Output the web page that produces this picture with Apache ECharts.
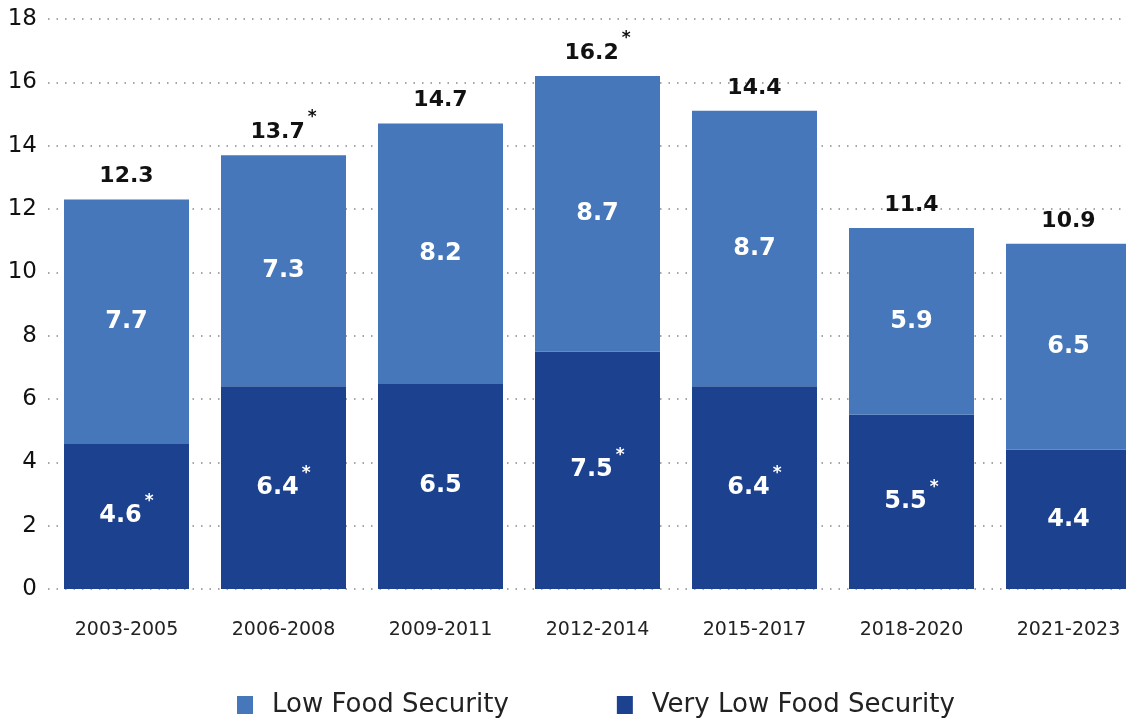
<!DOCTYPE html>
<html>
<head>
<meta charset="utf-8">
<script src="https://cdn.jsdelivr.net/npm/echarts@6/dist/echarts.min.js"></script>
<style>
  html, body { margin: 0; padding: 0; background: #ffffff; overflow: hidden; }
  #chart { width: 1147px; height: 719px; }
</style>
</head>
<body>
<div id="chart"></div>
<script>
// Three-year periods
const periods = ['2003-2005', '2006-2008', '2009-2011', '2012-2014', '2015-2017', '2018-2020', '2021-2023'];

// Percent of households, by severity
const veryLowFoodSecurity = [4.6, 6.4, 6.5, 7.5, 6.4, 5.5, 4.4];
const lowFoodSecurity = [7.7, 7.3, 8.2, 8.7, 8.7, 5.9, 6.5];
const totalFoodInsecurity = [12.3, 13.7, 14.7, 16.2, 14.4, 11.4, 10.9];

// Statistically significant change markers
const veryLowFlag = [true, true, false, true, true, true, false];
const lowFlag = [false, false, false, false, false, false, false];
const totalFlag = [false, true, false, true, false, false, false];

// Y axis ticks
const yTicks = [0, 2, 4, 6, 8, 10, 12, 14, 16, 18];

const FONT = '"DejaVu Sans", sans-serif';
const LIGHT = '#4577BA';
const DARK = '#1C418E';

function starred(text, flag) {
  return flag ? '{v|' + text + '}{a|*}' : '{v|' + text + '}';
}

function richFor(color, size) {
  return {
    v: { color: color, fontSize: size, fontWeight: 'bold', fontFamily: FONT, lineHeight: 46 },
    a: { color: color, fontSize: 17, fontWeight: 'bold', fontFamily: FONT, lineHeight: 17, verticalAlign: 'top', padding: [0, 0, 0, 3] }
  };
}

const chart = echarts.init(document.getElementById('chart'), null, { renderer: 'canvas' });

chart.setOption({
  animation: false,
  backgroundColor: '#ffffff',
  grid: { left: 48, top: 19, right: 0, bottom: 130, containLabel: false },
  legend: {
    left: 232,
    bottom: -4,
    itemWidth: 16,
    itemHeight: 18,
    itemGap: 108,
    icon: 'rect',
    data: ['Low Food Security', 'Very Low Food Security'],
    textStyle: { color: '#222', fontSize: 26, fontFamily: FONT, padding: [0, 0, 0, 14] }
  },
  xAxis: {
    type: 'category',
    data: periods,
    axisLine: { show: false },
    axisTick: { show: false },
    axisLabel: { color: '#222', fontSize: 19, fontFamily: FONT, margin: 32 }
  },
  yAxis: {
    type: 'value',
    min: yTicks[0],
    max: yTicks[yTicks.length - 1],
    interval: 2,
    axisLine: { show: false },
    axisTick: { show: false },
    axisLabel: { color: '#111', fontSize: 23, fontFamily: FONT, margin: 11 },
    splitLine: { show: true, lineStyle: { color: '#888', width: 1.5, type: [1.5, 7] } }
  },
  series: [
    {
      name: 'Very Low Food Security',
      type: 'bar',
      stack: 'fi',
      barWidth: 125,
      itemStyle: { color: DARK },
      data: veryLowFoodSecurity,
      label: {
        show: true,
        position: 'inside',
        formatter: p => starred(p.value.toFixed(1), veryLowFlag[p.dataIndex]),
        rich: richFor('#ffffff', 24)
      }
    },
    {
      name: 'Low Food Security',
      type: 'bar',
      stack: 'fi',
      barWidth: 125,
      itemStyle: { color: LIGHT },
      data: lowFoodSecurity,
      label: {
        show: true,
        position: 'inside',
        formatter: p => starred(p.value.toFixed(1), lowFlag[p.dataIndex]),
        rich: richFor('#ffffff', 24)
      }
    },
    {
      // zero-height cap carrying the total above each stack
      name: 'Total',
      type: 'bar',
      stack: 'fi',
      barWidth: 125,
      itemStyle: { color: 'transparent' },
      data: periods.map(() => 0),
      label: {
        show: true,
        position: 'top',
        distance: 0,
        formatter: p => starred(totalFoodInsecurity[p.dataIndex].toFixed(1), totalFlag[p.dataIndex]),
        rich: richFor('#111111', 22)
      },
      tooltip: { show: false }
    }
  ]
});
</script>
</body>
</html>
